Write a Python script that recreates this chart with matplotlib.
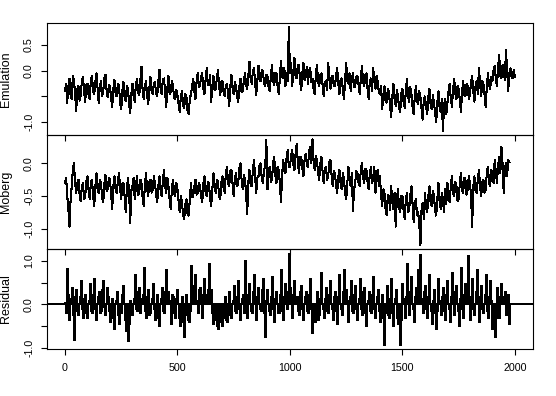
import matplotlib
matplotlib.use("Agg")
import matplotlib.pyplot as plt
import numpy as np

plt.rcParams['font.family'] = ['Liberation Sans', 'DejaVu Sans']

# 그림에서 5년 간격으로 읽은 값 (한 줄 = 50년)
emu_years = np.arange(0, 2001, 5)
emulation = [
    -0.40, -0.25, -0.62, -0.30, -0.15, -0.48, -0.55, -0.10, -0.20, -0.45,
    -0.78, -0.35, -0.30, -0.58, -0.48, -0.20, -0.12, -0.42, -0.60, -0.28,
    -0.25, -0.48, -0.55, -0.18, -0.10, -0.40, -0.45, -0.22, -0.05, -0.35,
    -0.62, -0.30, -0.20, -0.50, -0.40, -0.15, -0.08, -0.38, -0.52, -0.28,
    -0.30, -0.55, -0.70, -0.35, -0.18, -0.45, -0.50, -0.25, -0.28, -0.62,
    -0.75, -0.40, -0.22, -0.52, -0.58, -0.30, -0.35, -0.65, -0.82, -0.45,
    -0.25, -0.50, -0.60, -0.28, -0.15, -0.42, -0.48, -0.20, 0.08, -0.38,
    -0.55, -0.30, -0.20, -0.48, -0.65, -0.35, -0.12, -0.40, -0.45, -0.25,
    -0.22, -0.45, -0.50, -0.20, 0.02, -0.35, -0.45, -0.18, -0.15, -0.40,
    -0.70, -0.35, -0.10, -0.45, -0.42, -0.20, -0.30, -0.52, -0.55, -0.38,
    -0.48, -0.65, -0.80, -0.50, -0.40, -0.68, -0.72, -0.45, -0.52, -0.78,
    -0.85, -0.55, -0.45, -0.30, -0.15, -0.40, -0.55, -0.20, -0.05, -0.32,
    -0.30, -0.12, -0.05, -0.35, -0.45, -0.18, 0.05, -0.28, -0.25, -0.08,
    -0.60, -0.30, -0.10, -0.38, -0.35, -0.15, 0.02, -0.30, -0.48, -0.22,
    -0.20, -0.42, -0.50, -0.28, -0.25, -0.45, -0.68, -0.30, -0.08, -0.35,
    -0.45, -0.22, -0.30, -0.50, -0.60, -0.32, -0.15, -0.42, -0.40, -0.20,
    -0.05, -0.28, -0.35, -0.10, 0.18, -0.15, -0.25, -0.02, 0.05, -0.22,
    -0.48, -0.20, 0.10, -0.18, -0.20, 0.02, -0.02, -0.25, -0.30, -0.08,
    -0.10, -0.32, -0.40, -0.12, 0.12, -0.20, -0.28, -0.05, -0.05, -0.30,
    -0.45, -0.15, 0.20, -0.10, -0.15, 0.05, -0.30, -0.05, -0.20, 0.85,
    -0.05, 0.15, -0.30, -0.02, 0.25, -0.10, -0.15, 0.12, 0.10, -0.20,
    -0.38, -0.05, 0.15, -0.18, -0.10, 0.08, -0.25, 0.00, 0.05, -0.22,
    -0.15, -0.35, -0.45, -0.10, 0.12, -0.20, -0.30, -0.08, -0.05, -0.28,
    -0.50, -0.22, -0.20, -0.38, 0.15, -0.15, -0.35, -0.12, -0.10, -0.30,
    -0.30, -0.10, 0.05, -0.25, -0.45, -0.18, -0.15, -0.35, -0.55, -0.20,
    0.15, -0.20, -0.25, -0.05, -0.40, -0.15, -0.05, -0.32, -0.30, -0.12,
    -0.10, -0.28, -0.45, -0.15, 0.10, -0.22, -0.30, -0.08, -0.05, -0.35,
    -0.55, -0.20, -0.15, -0.40, 0.05, -0.18, -0.35, -0.10, -0.20, -0.42,
    -0.45, -0.30, -0.75, -0.48, -0.30, -0.60, -0.62, -0.35, -0.40, -0.70,
    -0.90, -0.50, -0.25, -0.55, -0.68, -0.38, -0.50, -0.72, -0.80, -0.45,
    -0.35, -0.60, -0.72, -0.40, -0.15, -0.50, -0.60, -0.32, -0.45, -0.70,
    -0.85, -0.48, -0.30, -0.58, -0.65, -0.40, -0.52, -0.75, -0.95, -0.55,
    -0.50, -0.70, -0.85, -0.52, -0.35, -0.65, -0.75, -0.48, -0.60, -0.82,
    -1.00, -0.62, -0.40, -0.70, -0.80, -0.55, -1.17, -0.68, -0.55, -0.85,
    -0.62, -0.40, -0.25, -0.55, -0.70, -0.38, -0.15, -0.45, -0.55, -0.30,
    -0.35, -0.58, -0.80, -0.42, -0.20, -0.48, -0.50, -0.25, -0.30, -0.55,
    -0.45, -0.22, -0.10, -0.40, -0.60, -0.30, -0.20, -0.45, 0.05, -0.25,
    -0.50, -0.20, -0.25, -0.48, -0.70, -0.30, -0.05, -0.28, -0.35, -0.12,
    -0.20, 0.02, 0.10, -0.15, -0.30, 0.05, 0.30, -0.10, -0.15, 0.12,
    0.00, -0.18, 0.40, 0.05, -0.40, -0.05, 0.05, -0.12, -0.15, 0.02,
    -0.12,
]

mob_years = np.arange(0, 1976, 5)
moberg = [
    -0.30, -0.22, -0.50, -0.70, -0.97, -0.55, -0.35, -0.10, 0.00, -0.30,
    -0.45, -0.30, -0.25, -0.48, -0.58, -0.35, -0.30, -0.55, -0.50, -0.28,
    -0.20, -0.42, -0.55, -0.30, -0.25, -0.50, -0.65, -0.35, -0.15, -0.40,
    -0.45, -0.25, -0.30, -0.52, -0.60, -0.32, -0.18, -0.42, -0.40, -0.22,
    -0.25, -0.48, -0.70, -0.35, -0.20, -0.40, -0.45, -0.28, -0.15, -0.38,
    -0.55, -0.32, -0.30, -0.50, -0.75, -0.40, -0.22, -0.45, -0.91, -0.42,
    -0.35, -0.22, -0.55, -0.38, -0.20, -0.48, -0.45, -0.25, -0.30, -0.52,
    -0.65, -0.35, -0.15, -0.40, -0.50, -0.28, -0.25, -0.45, -0.40, -0.20,
    -0.30, -0.48, -0.60, -0.35, -0.20, -0.42, -0.50, -0.28, -0.10, -0.35,
    -0.45, -0.22, -0.35, -0.55, -0.70, -0.40, -0.25, -0.45, -0.50, -0.30,
    -0.40, -0.58, -0.75, -0.50, -0.60, -0.80, -0.85, -0.62, -0.55, -0.78,
    -0.80, -0.55, -0.30, -0.52, -0.50, -0.35, -0.25, -0.48, -0.45, -0.30,
    -0.35, -0.50, -0.60, -0.32, -0.20, -0.45, -0.50, -0.28, -0.30, -0.55,
    -0.65, -0.40, -0.15, -0.38, -0.45, -0.25, -0.28, -0.50, -0.55, -0.30,
    -0.20, -0.38, -0.45, -0.15, -0.05, -0.30, -0.35, -0.12, -0.10, -0.32,
    -0.50, -0.25, -0.15, -0.35, -0.30, -0.08, 0.00, -0.25, -0.40, -0.18,
    -0.25, -0.45, -0.78, -0.30, -0.10, -0.32, -0.35, -0.12, 0.05, -0.20,
    -0.45, -0.22, -0.20, -0.02, 0.00, -0.25, -0.30, -0.10, -0.05, 0.36,
    -0.40, -0.15, -0.05, -0.28, -0.25, 0.00, 0.10, -0.18, -0.30, -0.05,
    -0.10, -0.30, -0.60, -0.20, 0.05, -0.12, -0.15, 0.08, 0.20, -0.05,
    -0.05, 0.12, 0.20, -0.02, -0.10, 0.15, 0.30, 0.02, -0.15, 0.10,
    0.10, -0.08, -0.20, 0.05, 0.15, -0.02, -0.05, 0.18, 0.25, 0.00,
    0.37, 0.05, -0.10, 0.12, 0.05, -0.15, -0.25, 0.00, 0.10, -0.12,
    -0.30, -0.08, -0.05, -0.25, -0.20, 0.02, 0.05, -0.18, -0.35, -0.12,
    -0.15, -0.35, -0.45, -0.20, -0.10, -0.30, -0.40, -0.15, -0.25, -0.45,
    -0.55, -0.30, -0.05, -0.28, -0.35, -0.15, -0.73, -0.40, -0.30, -0.12,
    -0.15, -0.30, -0.35, -0.10, 0.00, -0.22, -0.30, -0.08, -0.10, -0.28,
    -0.40, -0.15, -0.05, -0.30, -0.25, -0.05, -0.45, -0.20, -0.10, -0.35,
    -0.20, -0.50, -0.65, -0.40, -0.45, -0.70, -0.80, -0.48, -0.50, -0.72,
    -0.35, -0.60, -0.70, -0.45, -0.97, -0.55, -0.40, -0.68, -0.75, -0.50,
    -0.50, -0.72, -0.85, -0.55, -0.45, -0.75, -0.70, -0.48, -0.35, -0.62,
    -0.90, -0.62, -0.55, -0.80, -0.75, -0.95, -1.25, -0.70, -0.60, -0.85,
    -0.45, -0.68, -0.75, -0.50, -0.35, -0.60, -0.65, -0.42, -0.50, -0.72,
    -0.80, -0.55, -0.30, -0.58, -0.70, -0.45, -0.55, -0.75, -0.40, -0.62,
    -0.30, -0.52, -0.60, -0.35, -0.20, -0.45, -0.50, -0.28, -0.35, -0.58,
    -0.55, -0.30, -0.15, -0.42, -0.45, -0.22, -0.25, -0.48, -0.40, -0.20,
    -0.30, -0.50, -0.97, -0.35, -0.20, -0.42, -0.45, -0.25, -0.10, -0.35,
    -0.50, -0.28, -0.25, -0.45, -0.40, -0.15, -0.05, -0.30, -0.35, -0.10,
    -0.15, -0.30, 0.05, -0.12, -0.30, -0.05, 0.10, -0.15, 0.25, 0.00,
    -0.45, -0.10, 0.00, -0.20, 0.05, 0.02,
]

residual = [
    0.05, -0.20, 0.83, 0.25, -0.35, 0.15, 0.40, -0.25, -0.80, 0.20,
    0.35, -0.15, -0.25, 0.20, 0.55, -0.10, -0.30, 0.15, 0.25, -0.20,
    -0.30, 0.10, 0.50, -0.15, -0.20, 0.25, 0.60, -0.10, -0.35, 0.20,
    0.30, -0.20, -0.15, 0.35, 0.55, -0.05, -0.25, 0.40, 0.20, -0.15,
    -0.40, -0.15, 0.15, -0.30, -0.55, 0.10, 0.30, -0.25, -0.45, -0.10,
    -0.20, 0.25, 0.45, -0.35, -0.60, -0.30, -0.83, -0.45, 0.10, -0.25,
    -0.25, 0.15, 0.70, -0.10, -0.15, 0.30, 0.40, -0.20, 0.15, 0.25,
    0.85, -0.15, -0.30, 0.20, 0.35, -0.25, -0.20, 0.15, 0.50, -0.10,
    -0.35, -0.10, 0.25, -0.30, -0.50, 0.15, 0.40, -0.15, -0.20, 0.30,
    0.80, 0.20, 0.30, 0.10, -0.45, 0.25, 0.20, -0.20, -0.30, 0.15,
    0.35, -0.30, -0.50, -0.20, 0.20, -0.40, -0.75, -0.25, 0.25, -0.35,
    -0.40, -0.15, 0.90, 0.30, 0.45, 0.20, 0.70, 0.10, -0.20, 0.35,
    0.40, 0.10, -0.30, 0.25, 0.60, 0.15, 0.25, 0.35, 0.95, 0.10,
    0.35, -0.20, -0.45, -0.35, -0.30, -0.50, -0.55, -0.25, -0.25, -0.40,
    -0.50, -0.30, 0.20, -0.35, -0.40, -0.15, 0.30, -0.25, -0.30, 0.10,
    0.45, -0.15, -0.20, 0.20, 0.55, -0.10, -0.35, 0.15, 0.25, -0.20,
    1.02, 0.20, -0.30, 0.25, 0.50, -0.15, -0.20, 0.30, 0.70, 0.15,
    -0.35, 0.20, 0.40, -0.10, -0.15, 0.35, 0.60, -0.20, -0.75, 0.10,
    0.35, -0.15, -0.25, 0.20, 0.65, -0.10, -0.40, 0.15, 0.30, -0.20,
    -0.20, 0.25, 0.80, -0.15, -0.35, 0.20, 0.50, -0.10, 0.30, 1.18,
    0.40, 0.15, -0.30, 0.25, 0.55, 0.10, 0.20, -0.15, -0.25, 0.30,
    0.45, -0.10, -0.35, 0.20, 0.30, -0.15, -0.20, 0.25, 0.60, -0.10,
    -0.65, -0.30, -0.40, -0.20, 0.30, -0.35, -0.25, 0.15, 0.75, -0.10,
    -0.30, 0.15, 0.40, -0.15, -0.20, 0.25, 0.55, -0.10, -0.35, 0.20,
    0.30, -0.15, -0.45, 0.20, 0.70, -0.10, -0.25, 0.30, 0.80, 0.15,
    0.35, 0.10, -0.40, 0.20, 0.55, -0.15, -0.20, 0.25, 0.45, -0.10,
    -0.35, 0.15, 0.60, -0.10, -0.25, 0.30, 0.40, -0.20, -0.50, 0.10,
    0.30, -0.15, -0.20, 0.25, 0.65, -0.10, -0.30, 0.20, 0.35, -0.15,
    -0.40, -0.15, 0.25, -0.30, -0.92, -0.20, 0.45, -0.25, -0.30, 0.15,
    0.60, -0.20, -0.50, 0.15, 0.35, -0.30, -0.45, -0.20, -0.93, -0.35,
    0.50, 0.15, -0.30, 0.20, 0.95, 0.10, -0.25, 0.30, 0.65, -0.10,
    -0.40, 0.20, 0.40, 0.10, 0.80, 0.25, 1.15, 0.15, -0.20, 0.30,
    0.45, -0.10, -0.30, 0.20, 0.70, -0.15, -0.45, 0.10, 0.35, -0.20,
    -0.55, -0.15, 0.60, 0.10, -0.25, 0.20, 0.40, -0.15, -0.35, 0.25,
    0.55, -0.10, -0.40, 0.20, 0.75, 0.10, -0.25, 0.30, 0.45, -0.15,
    -0.50, 0.15, 0.85, -0.10, -0.30, 0.25, 0.50, 0.10, 1.12, 0.20,
    -0.35, 0.15, 0.60, -0.10, -0.25, 0.30, 0.80, 0.10, -0.40, 0.20,
    0.45, -0.10, -0.20, 0.25, 0.70, -0.15, -0.30, 0.20, 0.55, 0.10,
    -0.55, -0.25, -0.75, -0.30, 0.40, -0.15, -0.30, 0.20, 0.50, 0.15,
    0.20, 0.30, -0.25, 0.15, 0.25, -0.45,
]

xticks = [0, 500, 1000, 1500, 2000]
emu_ticks = [-1.0, -0.5, 0.0, 0.5]
emu_labels = ["-1.0", "", "0.0", "0.5"]
mob_ticks = [-1.0, -0.5, 0.0]
mob_labels = ["-1.0", "-0.5", "0.0"]
res_ticks = [-1.0, -0.5, 0.0, 0.5, 1.0]
res_labels = ["-1.0", "", "0.0", "", "1.0"]

fig = plt.figure(figsize=(5.56, 3.96), dpi=100)
left, width = 0.0845, 0.874
ax1 = fig.add_axes([left, 0.659, width, 0.283])
ax2 = fig.add_axes([left, 0.371, width, 0.288])
ax3 = fig.add_axes([left, 0.1187, width, 0.2525])

# R 출력처럼 안티에일리어싱 없이 1px 선
ax1.plot(emu_years, emulation, color="black", lw=0.75, antialiased=False)
ax2.plot(mob_years, moberg, color="black", lw=0.75, antialiased=False)
ax3.vlines(mob_years, 0, residual, color="black", lw=0.75, antialiased=False)
ax3.axhline(0, color="black", lw=1.1, antialiased=False)  # 잔차 막대의 기준선

# R 처럼 양쪽 4% 여유
x0, x1 = emu_years.min(), emu_years.max()
pad = 0.04 * (x1 - x0)

def yrange(vals):
    lo, hi = min(vals), max(vals)
    p = 0.04 * (hi - lo)
    return lo - p, hi + p

panels = [
    (ax1, "Emulation", emulation, emu_ticks, emu_labels),
    (ax2, "Moberg", moberg, mob_ticks, mob_labels),
    (ax3, "Residual", residual, res_ticks, res_labels),
]

for ax, name, vals, ticks, labels in panels:
    ax.set_xlim(x0 - pad, x1 + pad)
    ax.set_ylim(*yrange(vals))
    ax.patch.set_visible(False)
    for s in ax.spines.values():
        s.set_linewidth(0.8)
    ax.set_xticks(xticks)
    ax.set_yticks(ticks, labels)
    ax.tick_params(axis="both", direction="out", length=4.3, width=0.8,
                   labelsize=7.7, pad=5)
    ax.tick_params(axis="y", labelrotation=90)
    for lab in ax.get_yticklabels():
        lab.set_va("center")
    ax.set_ylabel(name, fontsize=9)
    ax.yaxis.set_label_coords(-0.071, 0.5)
    if ax is not ax3:
        ax.tick_params(axis="x", labelbottom=False)

ax3.tick_params(axis="x", pad=5.5)

fig.savefig("out.png", dpi=100)
